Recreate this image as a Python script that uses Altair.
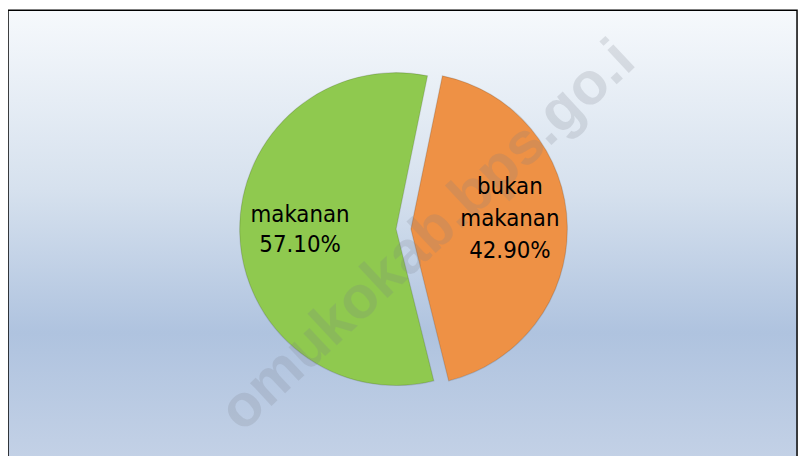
import math
import altair as alt
import pandas as pd

# ---- data ----
categories = ["bukan makanan", "makanan"]
values = [42.9, 57.1]
order = [1, 2]
colors = ["#EE9145", "#8FC94F"]
watermark = ["omukokab.bps.go.i"]

W, H = 800, 448
CX, CY = 392, 221
R = 158
START = math.radians(11.6)

df = pd.DataFrame({"category": categories, "value": values, "order": order})

base = alt.Chart(df).transform_window(
    cum="sum(value)", sort=[alt.SortField("order")], frame=[None, 0]
).transform_calculate(
    start="datum.cum - datum.value",
    mid="datum.cum - datum.value / 2",
    label="datum.category + ' ' + format(datum.value, '.2f') + '%'",
)

theta_scale = alt.Scale(domain=[0, 100], range=[START, START + 2 * math.pi])
color_scale = alt.Scale(domain=categories, range=colors)

bg = alt.Chart(pd.DataFrame({"a": [0]})).mark_rect(
    color=alt.Gradient(
        gradient="linear",
        stops=[
            alt.GradientStop(color="#F6F9FC", offset=0),
            alt.GradientStop(color="#D6E1EE", offset=0.4),
            alt.GradientStop(color="#AFC3DF", offset=0.72),
            alt.GradientStop(color="#C3D1E6", offset=1),
        ],
        x1=0, x2=0, y1=0, y2=1,
    ),
    stroke="#000000",
    strokeWidth=1.5,
).encode(x=alt.value(0), x2=alt.value(W - 3), y=alt.value(0), y2=alt.value(H + 5))


def slice_layer(cat, cx, cy):
    return base.transform_filter(alt.datum.category == cat).mark_arc(
        outerRadius=R, strokeWidth=1.2, stroke="#00000022"
    ).encode(
        theta=alt.Theta("start:Q", scale=theta_scale),
        theta2="cum:Q",
        color=alt.Color("category:N", scale=color_scale, legend=None),
        x=alt.value(cx),
        y=alt.value(cy),
    )


def label_layer(cat, cx, cy, r, dy, lh):
    return base.transform_filter(alt.datum.category == cat).mark_text(
        radius=r, font="DejaVu Sans Condensed", fontSize=24, lineBreak=" ",
        lineHeight=lh, align="center", baseline="middle", color="#000000", dy=dy,
    ).encode(
        theta=alt.Theta("mid:Q", scale=theta_scale),
        text="label:N",
        x=alt.value(cx),
        y=alt.value(cy),
    )


wm = alt.Chart(pd.DataFrame({"t": watermark})).mark_text(
    font="Liberation Sans", fontWeight="bold", fontSize=60, angle=317,
    align="center", baseline="middle", color="#7A7F8A", opacity=0.2,
).encode(text="t:N", x=alt.value(424), y=alt.value(228))

chart = alt.layer(
    bg,
    slice_layer("makanan", CX, CY),
    slice_layer("bukan makanan", CX + 15, CY),
    wm,
    label_layer("makanan", CX, CY, 97, -16, 30),
    label_layer("bukan makanan", CX + 15, CY, 100, -40, 32),
).properties(
    width=W, height=H, padding=0, autosize=alt.AutoSizeParams(type="none"),
    background="#FFFFFF",
).configure_view(stroke=None)

chart.save("out.html", embed_options={"renderer": "svg", "actions": False})
